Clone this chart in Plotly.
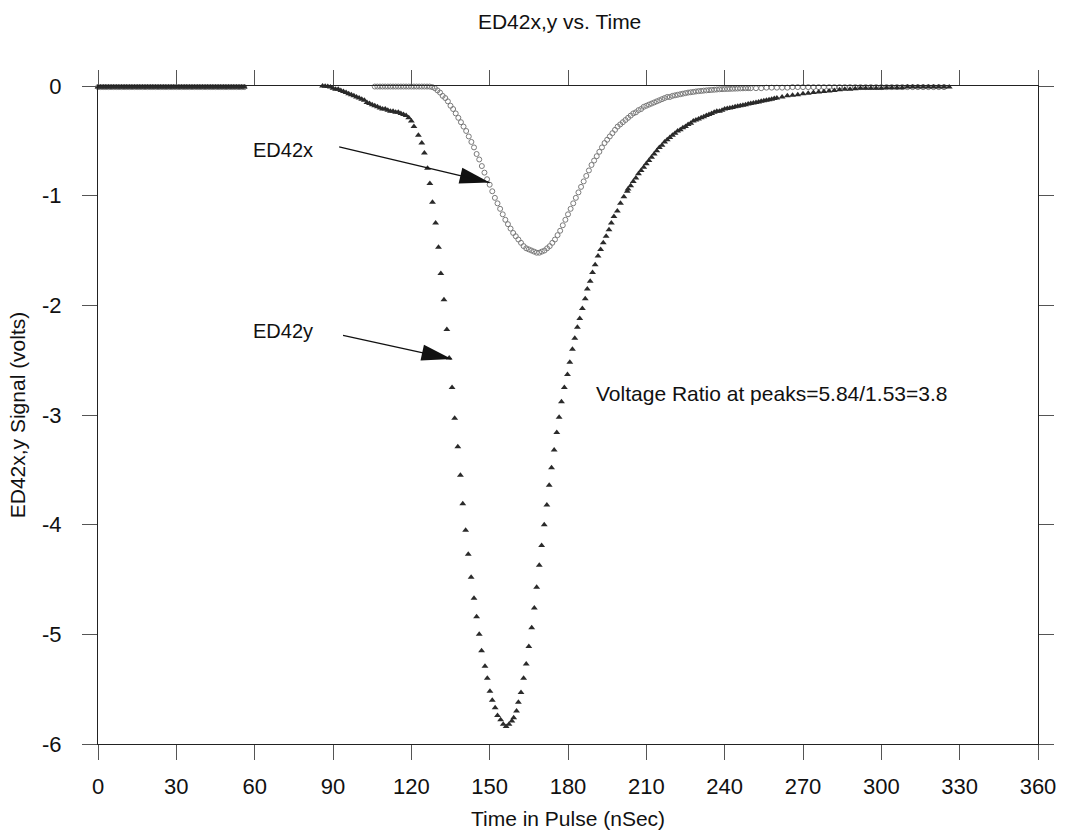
import math
import plotly.graph_objects as go

# ---------------- data ----------------
# ED42y (filled triangles)
t_y = (list(range(0, 57))
       + [86, 87, 88, 89, 90, 91, 92, 93, 94, 95, 96, 97, 98, 99, 100, 101, 102, 103, 104, 105, 106, 107, 108, 109,
          110, 111, 112, 113, 114, 115, 116, 117, 118, 119, 120, 121]
       + [122.7, 124.0, 125.0, 126.2, 127.1, 128.1, 129.3, 130.4, 131.3, 132.5, 133.6, 134.5, 135.6, 136.6, 137.8,
          138.8, 139.7, 140.8, 141.8, 142.9, 144.0, 145.0, 146.0, 146.9, 148.2, 149.1, 150.1, 151.0, 152.1, 153.0,
          154.2, 155.2, 156.3, 157.4, 158.5, 159.2, 160.3, 161.0, 162.0, 163.0, 164.0, 165.0, 166.1, 167.1, 168.0,
          169.0, 169.9, 170.9, 171.9, 172.8, 173.7, 174.7, 175.7, 176.6, 177.5, 178.6, 179.8, 180.7, 181.7, 182.6,
          183.6, 184.5, 185.5, 186.6, 187.4, 188.5, 189.4, 190.4, 191.5, 192.5, 193.5, 194.6, 195.7, 196.6, 197.6,
          198.9, 200.1, 201.4, 202.7]
       + [203, 204, 205, 206, 207, 208, 209, 210, 211, 212, 213, 214, 215, 216, 217, 218, 219, 220, 221, 222, 223,
          224, 225, 226, 227, 228, 229, 230, 231, 232, 233, 234, 235, 236, 237, 238, 239, 240, 241, 242, 243, 244,
          245, 246, 247, 248, 249, 250, 251, 252, 253, 254, 255, 256, 257, 258, 259, 260]
       + [262, 264, 266, 268, 270, 272, 274, 276, 278, 280, 282, 284, 286, 288, 290, 292, 294, 296, 298, 300, 302,
          304, 306, 308, 310, 312, 314, 316, 318, 320, 322, 324, 326])
v_y = ([-0.01] * 57
       + [0.0, -0.003, -0.005, -0.01, -0.02, -0.03, -0.03, -0.04, -0.05, -0.06, -0.07, -0.08, -0.09, -0.10, -0.11,
          -0.12, -0.13, -0.15, -0.16, -0.17, -0.18, -0.19, -0.20, -0.21, -0.21, -0.22, -0.23, -0.23, -0.24, -0.24,
          -0.25, -0.26, -0.27, -0.29, -0.32, -0.37]
       + [-0.45, -0.52, -0.61, -0.75, -0.89, -1.06, -1.25, -1.47, -1.71, -1.95, -2.22, -2.48, -2.75, -3.03, -3.29,
          -3.55, -3.81, -4.05, -4.27, -4.48, -4.67, -4.84, -5.00, -5.15, -5.29, -5.40, -5.52, -5.60, -5.67, -5.74,
          -5.78, -5.82, -5.84, -5.82, -5.79, -5.76, -5.70, -5.62, -5.53, -5.40, -5.27, -5.11, -4.94, -4.76, -4.57,
          -4.37, -4.19, -4.00, -3.82, -3.64, -3.48, -3.32, -3.16, -3.02, -2.88, -2.75, -2.63, -2.52, -2.40, -2.30,
          -2.20, -2.12, -2.03, -1.94, -1.85, -1.78, -1.70, -1.63, -1.55, -1.49, -1.43, -1.37, -1.31, -1.25, -1.19,
          -1.14, -1.07, -1.01, -0.96]
       + [-0.94, -0.91, -0.87, -0.84, -0.80, -0.77, -0.74, -0.71, -0.68, -0.65, -0.62, -0.59, -0.56, -0.54, -0.51,
          -0.49, -0.47, -0.45, -0.43, -0.41, -0.40, -0.38, -0.37, -0.35, -0.34, -0.32, -0.31, -0.30, -0.29, -0.28,
          -0.27, -0.26, -0.25, -0.24, -0.23, -0.23, -0.22, -0.21, -0.205, -0.20, -0.195, -0.19, -0.185, -0.18,
          -0.175, -0.17, -0.165, -0.16, -0.155, -0.15, -0.145, -0.14, -0.135, -0.13, -0.125, -0.12, -0.115, -0.11]
       + [-0.10, -0.09, -0.085, -0.08, -0.07, -0.065, -0.06, -0.055, -0.05, -0.045, -0.04, -0.035, -0.03, -0.03,
          -0.025, -0.02, -0.02, -0.02, -0.02, -0.02, -0.015, -0.015, -0.015, -0.015, -0.01, -0.01, -0.01, -0.01,
          -0.01, -0.01, -0.01, -0.01, -0.01])

# ED42x (open circles)
t_x = (list(range(0, 57))
       + [106, 107, 108, 109, 110, 111, 112, 113, 114, 115, 116, 117, 118, 119, 120, 121, 122, 123, 124, 125, 126,
          127]
       + list(range(128, 221))
       + [221, 222, 223, 224, 225, 226, 227, 228, 229, 230, 231, 232, 233, 234, 235, 236, 237, 238, 239, 240, 241,
          242, 243, 244, 245, 246, 247, 248, 249, 250]
       + [252, 254, 256, 258, 260, 262, 264, 266, 268, 270, 272, 274, 276, 278, 280, 282, 284, 286, 288, 290, 292,
          294, 296, 298, 300, 302, 304, 306, 308, 310, 312, 314, 316, 318, 320, 322, 324])
v_x = ([-0.01] * 57
       + [-0.005] * 22
       + [-0.01, -0.02, -0.04, -0.06, -0.09, -0.11, -0.14, -0.18, -0.21, -0.25, -0.29, -0.33, -0.37, -0.41, -0.46,
          -0.51, -0.56, -0.62, -0.67, -0.73, -0.79, -0.85, -0.90, -0.96, -1.02, -1.07, -1.12, -1.17, -1.22, -1.26,
          -1.30, -1.34, -1.37, -1.40, -1.43, -1.46, -1.48, -1.49, -1.50, -1.51, -1.52, -1.52, -1.51, -1.50, -1.48,
          -1.46, -1.43, -1.40, -1.36, -1.32, -1.27, -1.22, -1.17, -1.12, -1.07, -1.02, -0.97, -0.92, -0.87, -0.82,
          -0.77, -0.72, -0.68, -0.64, -0.60, -0.56, -0.52, -0.49, -0.46, -0.43, -0.40, -0.37, -0.35, -0.33, -0.31,
          -0.29, -0.27, -0.25, -0.24, -0.22, -0.21, -0.19, -0.18, -0.17, -0.16, -0.15, -0.14, -0.13, -0.12, -0.11,
          -0.10, -0.10, -0.09]
       + [-0.085, -0.08, -0.075, -0.07, -0.065, -0.06, -0.057, -0.054, -0.05, -0.047, -0.045, -0.042, -0.04, -0.038,
          -0.036, -0.034, -0.032, -0.03, -0.029, -0.028, -0.027, -0.026, -0.025, -0.024, -0.023, -0.022, -0.021,
          -0.02, -0.02, -0.02]
       + [-0.02, -0.02, -0.015, -0.015, -0.015, -0.015, -0.015, -0.01, -0.01, -0.01, -0.01, -0.01, -0.01, -0.01,
          -0.01, -0.01, -0.01, -0.01, -0.01, -0.01, -0.01, -0.01, -0.01, -0.01, -0.01, -0.01, -0.01, -0.01, -0.01,
          -0.01, -0.01, -0.01, -0.01, -0.01, -0.01, -0.01, -0.01])

x_ticks = [0, 30, 60, 90, 120, 150, 180, 210, 240, 270, 300, 330, 360]
y_ticks = [0, -1, -2, -3, -4, -5, -6]

title_text = "ED42x,y vs. Time"
x_title = "Time in Pulse (nSec)"
y_title = "ED42x,y Signal (volts)"
note_text = "Voltage Ratio at peaks=5.84/1.53=3.8"

FONT = "Arial, 'Liberation Sans', Helvetica, sans-serif"

fig = go.Figure()
fig.add_trace(go.Scatter(x=t_x, y=v_x, mode="markers", name="ED42x", cliponaxis=False,
                         marker=dict(symbol="circle-open", size=5, color="#7a7a7a", line=dict(width=1))))
fig.add_trace(go.Scatter(x=t_y, y=v_y, mode="markers", name="ED42y", cliponaxis=False,
                         marker=dict(symbol="triangle-up", size=6, color="#2a2a2a", line=dict(width=0))))

# arrows: (label, label_x, label_y, tip_x, tip_y, tail offset px)
arrows = [
    ("ED42x", 58.7, -0.58, 150.0, -0.88, -152, -36),
    ("ED42y", 58.7, -2.23, 135.4, -2.49, -110, -24),
]
shapes = []
annotations = []
for label, lx, ly, tx, ty, ax, ay in arrows:
    annotations.append(dict(x=lx, y=ly, xref="x", yref="y", text=label, showarrow=False,
                            xanchor="left", yanchor="middle", font=dict(size=20, color="#111", family=FONT)))
    annotations.append(dict(x=tx, y=ty, xref="x", yref="y", text="", showarrow=True, arrowhead=0,
                            arrowwidth=1.3, arrowcolor="#111", ax=ax, ay=ay, axref="pixel", ayref="pixel"))
    # arrowhead drawn as a slender filled triangle (pixel offsets from tip, y up)
    L, W = 30.0, 16.0
    dx, dy = -ax, ay  # direction tail->tip in y-up pixel coordinates
    n = math.hypot(dx, dy)
    ux, uy = dx / n, dy / n
    bx, by = -ux * L, -uy * L
    px_, py_ = -uy * W / 2, ux * W / 2
    path = "M0,0 L{:.2f},{:.2f} L{:.2f},{:.2f} Z".format(bx + px_, by + py_, bx - px_, by - py_)
    shapes.append(dict(type="path", xref="x", yref="y", xsizemode="pixel", ysizemode="pixel",
                       xanchor=tx, yanchor=ty, path=path, fillcolor="#111", line=dict(width=0)))

annotations.append(dict(x=190.0, y=-2.80, xref="x", yref="y", text=note_text, showarrow=False,
                        xanchor="left", yanchor="middle", font=dict(size=21, color="#111", family=FONT)))

fig.update_layout(
    width=1068, height=839, autosize=False,
    margin=dict(l=98, r=25, t=86, b=95),
    paper_bgcolor="white", plot_bgcolor="white",
    showlegend=False,
    font=dict(family=FONT, color="#111"),
    title=dict(text=title_text, x=0.524, xanchor="center", y=0.974, yanchor="middle",
               font=dict(size=21, color="#111", family=FONT)),
    shapes=shapes,
    annotations=annotations,
)
fig.update_xaxes(range=[0, 360], tickvals=x_ticks, ticktext=[str(v) for v in x_ticks],
                 showgrid=False, zeroline=False, showline=True, linecolor="#222", linewidth=1,
                 mirror="allticks", ticks="outside", ticklen=15, tickcolor="#555", tickwidth=1,
                 ticklabelstandoff=8,
                 tickfont=dict(size=22, family=FONT, color="#111"),
                 title=dict(text=x_title, font=dict(size=21, family=FONT, color="#111"), standoff=12))
fig.update_yaxes(range=[-6, 0], tickvals=y_ticks, ticktext=[str(v) for v in y_ticks],
                 showgrid=False, zeroline=False, showline=True, linecolor="#222", linewidth=1,
                 mirror="allticks", ticks="outside", ticklen=15, tickcolor="#555", tickwidth=1,
                 ticklabelstandoff=16,
                 tickfont=dict(size=22, family=FONT, color="#111"),
                 title=dict(text=y_title, font=dict(size=21, family=FONT, color="#111"), standoff=10))

fig.write_html("out.html")
